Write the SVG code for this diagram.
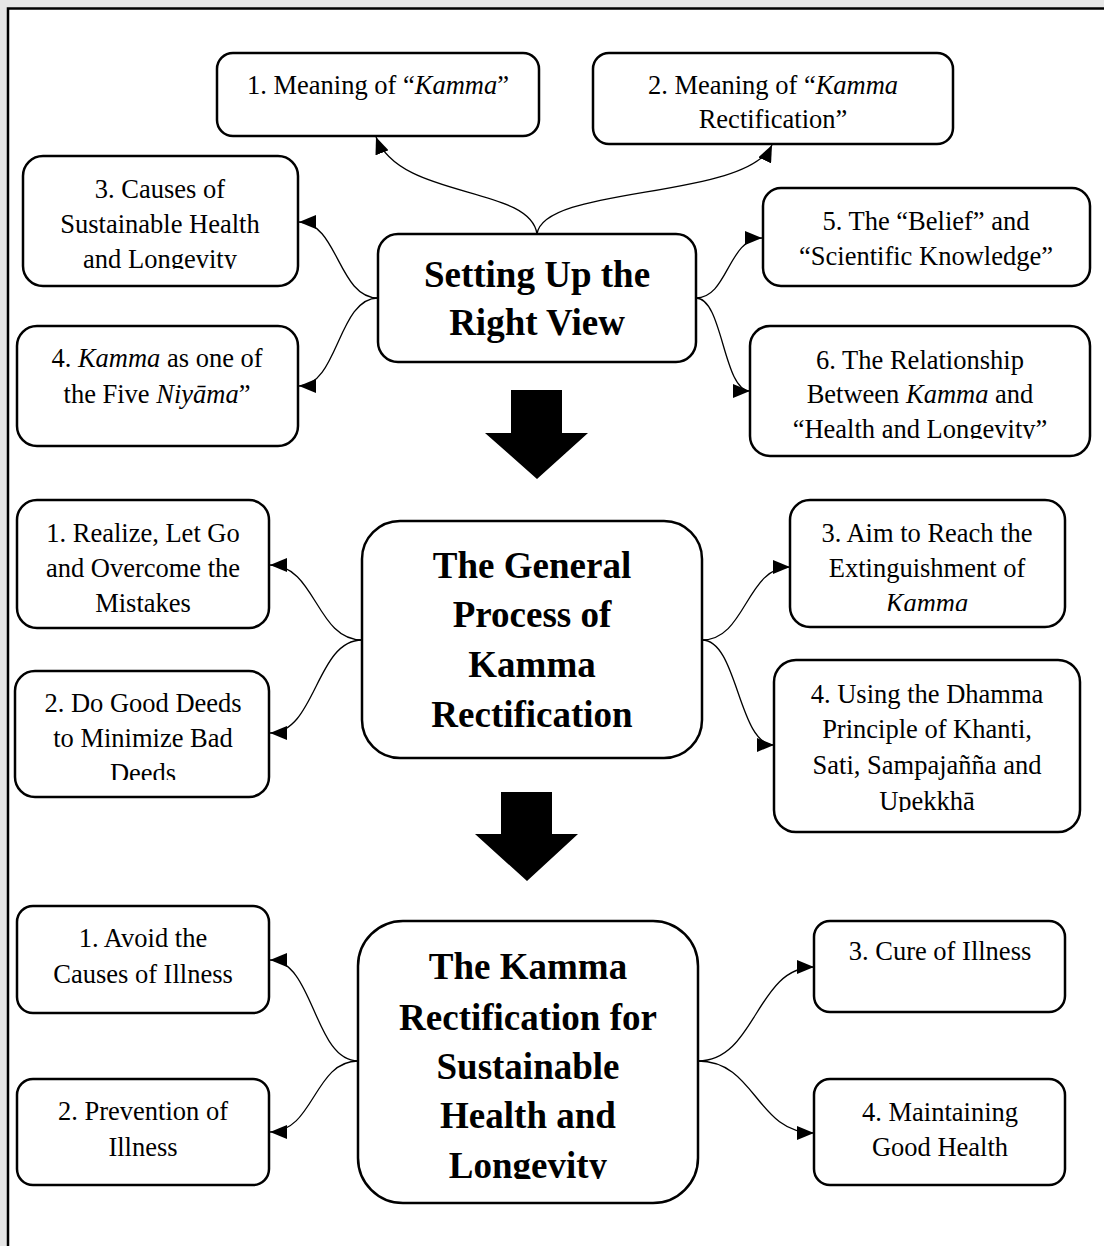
<svg xmlns="http://www.w3.org/2000/svg" width="1104" height="1246" viewBox="0 0 1104 1246">
  <style>
    .box { fill: #ffffff; stroke: #000000; stroke-width: 2.5; }
    .t { font-family: "Liberation Serif", "Times New Roman", serif; font-size: 26.5px; fill: #000000; text-anchor: middle; }
    .hub { font-family: "Liberation Serif", "Times New Roman", serif; font-size: 37px; font-weight: bold; fill: #000000; text-anchor: middle; }
    .i { font-style: italic; }
    .link { fill: none; stroke: #000000; stroke-width: 1.3; marker-end: url(#head); }
    .big { fill: #000000; }
  </style>
  <defs>
    <marker id="head" markerUnits="userSpaceOnUse" markerWidth="17" markerHeight="14" refX="17" refY="7" orient="auto" viewBox="0 0 17 14">
      <path d="M0,0 L17,7 L0,14 z" fill="#000000"/>
    </marker>
    <clipPath id="clipA3"><rect x="23" y="156" width="275" height="113"/></clipPath>
    <clipPath id="clipA6"><rect x="750" y="326" width="340" height="113"/></clipPath>
    <clipPath id="clipB1"><rect x="17" y="500" width="252" height="113"/></clipPath>
    <clipPath id="clipB2"><rect x="15" y="671" width="254" height="109"/></clipPath>
    <clipPath id="clipB3"><rect x="790" y="500" width="275" height="111"/></clipPath>
    <clipPath id="clipB4"><rect x="774" y="660" width="306" height="152"/></clipPath>
    <clipPath id="clipC"><rect x="358" y="921" width="340" height="258"/></clipPath>
  </defs>

  <!-- page background and frame -->
  <rect x="0" y="0" width="1104" height="1246" fill="#e6e6e6"/>
  <rect x="8" y="8.5" width="1110" height="1250" fill="#ffffff" stroke="#000000" stroke-width="2.5"/>

  <!-- connectors -->
  <g id="connectors">
    <path class="link" d="M537,234 C530,185 400,200 376,137"/>
    <path class="link" d="M537,234 C544,185 746,200 772,145"/>
    <path class="link" d="M378,298 C338,298 338,222 299,222"/>
    <path class="link" d="M378,298 C338,298 338,386 299,386"/>
    <path class="link" d="M696,298 C728,298 728,238 762,238"/>
    <path class="link" d="M696,298 C723,298 723,391 750,391"/>

    <path class="link" d="M362,640 C316,640 316,565 270,565"/>
    <path class="link" d="M362,640 C316,640 316,733 270,733"/>
    <path class="link" d="M702,640 C746,640 746,567 790,567"/>
    <path class="link" d="M702,640 C738,640 738,745 774,745"/>

    <path class="link" d="M358,1061 C314,1061 314,960 270,960"/>
    <path class="link" d="M358,1061 C314,1061 314,1132 270,1132"/>
    <path class="link" d="M698,1061 C756,1061 756,967 814,967"/>
    <path class="link" d="M698,1061 C756,1061 756,1133 814,1133"/>

    <!-- block arrows between stages -->
    <polygon class="big" points="511,390 562,390 562,433 588,433 537,479 485,433 511,433"/>
    <polygon class="big" points="501,792 552,792 552,834 578,834 527,881 475,834 501,834"/>
  </g>

  <!-- stage 1: Setting Up the Right View -->
  <g id="hub-right-view">
    <rect class="box" x="378" y="234" width="318" height="128" rx="20"/>
    <text class="hub" x="537" y="287">Setting Up the</text>
    <text class="hub" x="537" y="335">Right View</text>
  </g>
  <g id="a1">
    <rect class="box" x="217" y="53" width="322" height="83" rx="16"/>
    <text class="t" x="378" y="94">1. Meaning of “<tspan class="i">Kamma</tspan>”</text>
  </g>
  <g id="a2">
    <rect class="box" x="593" y="53" width="360" height="91" rx="16"/>
    <text class="t" x="773" y="94">2. Meaning of “<tspan class="i">Kamma</tspan></text>
    <text class="t" x="773" y="128">Rectification”</text>
  </g>
  <g id="a3">
    <rect class="box" x="23" y="156" width="275" height="130" rx="20"/>
    <g clip-path="url(#clipA3)">
      <text class="t" x="160" y="198">3. Causes of</text>
      <text class="t" x="160" y="233">Sustainable Health</text>
      <text class="t" x="160" y="268">and Longevity</text>
    </g>
  </g>
  <g id="a4">
    <rect class="box" x="17" y="326" width="281" height="120" rx="20"/>
    <text class="t" x="157" y="367">4. <tspan class="i">Kamma</tspan> as one of</text>
    <text class="t" x="157" y="403">the Five <tspan class="i">Niyāma</tspan>”</text>
  </g>
  <g id="a5">
    <rect class="box" x="763" y="188" width="327" height="98" rx="18"/>
    <text class="t" x="926" y="230">5. The “Belief” and</text>
    <text class="t" x="926" y="265">“Scientific Knowledge”</text>
  </g>
  <g id="a6">
    <rect class="box" x="750" y="326" width="340" height="130" rx="20"/>
    <g clip-path="url(#clipA6)">
      <text class="t" x="920" y="369">6. The Relationship</text>
      <text class="t" x="920" y="403">Between <tspan class="i">Kamma</tspan> and</text>
      <text class="t" x="920" y="438">“Health and Longevity”</text>
    </g>
  </g>

  <!-- stage 2: The General Process of Kamma Rectification -->
  <g id="hub-general-process">
    <rect class="box" x="362" y="521" width="340" height="237" rx="38"/>
    <text class="hub" x="532" y="578">The General</text>
    <text class="hub" x="532" y="627">Process of</text>
    <text class="hub" x="532" y="677">Kamma</text>
    <text class="hub" x="532" y="727">Rectification</text>
  </g>
  <g id="b1">
    <rect class="box" x="17" y="500" width="252" height="128" rx="20"/>
    <g clip-path="url(#clipB1)">
      <text class="t" x="143" y="542">1. Realize, Let Go</text>
      <text class="t" x="143" y="577">and Overcome the</text>
      <text class="t" x="143" y="612">Mistakes</text>
    </g>
  </g>
  <g id="b2">
    <rect class="box" x="15" y="671" width="254" height="126" rx="20"/>
    <g clip-path="url(#clipB2)">
      <text class="t" x="143" y="712">2. Do Good Deeds</text>
      <text class="t" x="143" y="747">to Minimize Bad</text>
      <text class="t" x="143" y="782">Deeds</text>
    </g>
  </g>
  <g id="b3">
    <rect class="box" x="790" y="500" width="275" height="127" rx="20"/>
    <g clip-path="url(#clipB3)">
      <text class="t" x="927" y="542">3. Aim to Reach the</text>
      <text class="t" x="927" y="577">Extinguishment of</text>
      <text class="t i" x="927" y="612">Kamma</text>
    </g>
  </g>
  <g id="b4">
    <rect class="box" x="774" y="660" width="306" height="172" rx="22"/>
    <g clip-path="url(#clipB4)">
      <text class="t" x="927" y="703">4. Using the Dhamma</text>
      <text class="t" x="927" y="738">Principle of Khanti,</text>
      <text class="t" x="927" y="774">Sati, Sampajañña and</text>
      <text class="t" x="927" y="810">Upekkhā</text>
    </g>
  </g>

  <!-- stage 3: The Kamma Rectification for Sustainable Health and Longevity -->
  <g id="hub-health-longevity">
    <rect class="box" x="358" y="921" width="340" height="282" rx="45"/>
    <g clip-path="url(#clipC)">
      <text class="hub" x="528" y="979">The Kamma</text>
      <text class="hub" x="528" y="1030">Rectification for</text>
      <text class="hub" x="528" y="1079">Sustainable</text>
      <text class="hub" x="528" y="1128">Health and</text>
      <text class="hub" x="528" y="1178">Longevity</text>
    </g>
  </g>
  <g id="c1">
    <rect class="box" x="17" y="906" width="252" height="107" rx="16"/>
    <text class="t" x="143" y="947">1. Avoid the</text>
    <text class="t" x="143" y="983">Causes of Illness</text>
  </g>
  <g id="c2">
    <rect class="box" x="17" y="1079" width="252" height="106" rx="16"/>
    <text class="t" x="143" y="1120">2. Prevention of</text>
    <text class="t" x="143" y="1156">Illness</text>
  </g>
  <g id="c3">
    <rect class="box" x="814" y="921" width="251" height="91" rx="16"/>
    <text class="t" x="940" y="960">3. Cure of Illness</text>
  </g>
  <g id="c4">
    <rect class="box" x="814" y="1079" width="251" height="106" rx="16"/>
    <text class="t" x="940" y="1121">4. Maintaining</text>
    <text class="t" x="940" y="1156">Good Health</text>
  </g>
</svg>
